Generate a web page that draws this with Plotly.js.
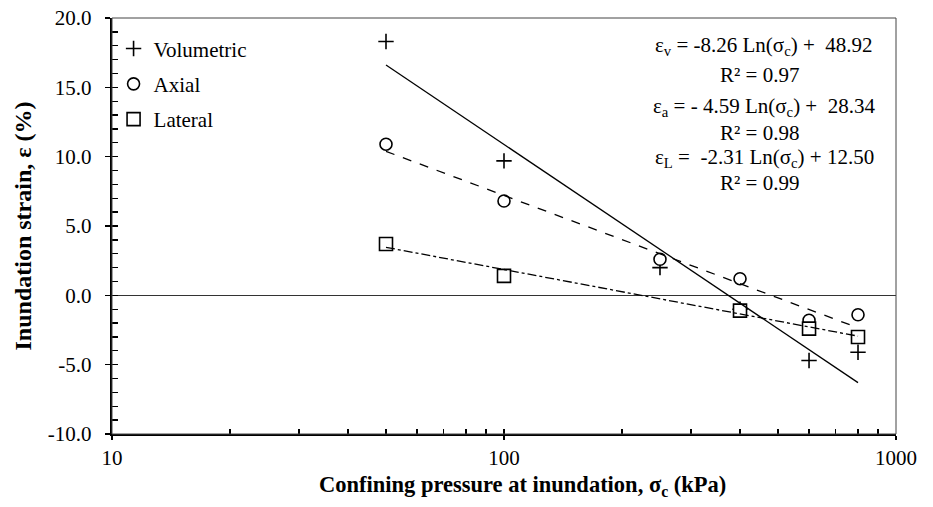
<!DOCTYPE html>
<html>
<head>
<meta charset="utf-8">
<script src="https://cdn.plot.ly/plotly-3.0.1.min.js"></script>
<style>
  html, body { margin: 0; padding: 0; background: #fff; }
  #chart { width: 933px; height: 507px; }
</style>
</head>
<body>
<div id="chart"></div>
<script>
// Confining pressure at inundation (kPa)
const pressure = [50, 100, 250, 400, 600, 800];

// Inundation strains (%) measured at each confining pressure
const volumetric = [18.3, 9.7, 2.0, -1.0, -4.7, -4.1];
const axial      = [10.9, 6.8, 2.6, 1.2, -1.8, -1.4];
const lateral    = [3.7, 1.4, null, -1.1, -2.4, -3.0];

// Logarithmic fits: strain = slope * Ln(sigma_c) + intercept
const fitNames      = ["v", "a", "L"];
const fitSlopes     = [-8.26, -4.59, -2.31];
const fitIntercepts = [48.92, 28.34, 12.50];
const fitR2         = [0.97, 0.98, 0.99];
const fitRange      = [50, 800];

// Axis ticks
const yTickVals = [-10, -5, 0, 5, 10, 15, 20];
const yTickText = ["-10.0", "-5.0", "0.0", "5.0", "10.0", "15.0", "20.0"];
const xTickVals = [10, 100, 1000];
const xTickText = ["10", "100", "1000"];

const FONT = "Liberation Serif, Times New Roman, serif";
const markerLine = { color: "#000", width: 1.6 };

const traces = [
  {
    x: pressure, y: volumetric, name: "Volumetric", type: "scatter", mode: "markers",
    legendgroup: "v",
    marker: { symbol: "cross-thin-open", size: 11, color: "#000", line: { color: "#000", width: 1.6 } }
  },
  {
    x: pressure, y: axial, name: "Axial", type: "scatter", mode: "markers",
    legendgroup: "a",
    marker: { symbol: "circle", size: 12, color: "#fff", line: markerLine }
  },
  {
    x: pressure, y: lateral, name: "Lateral", type: "scatter", mode: "markers",
    legendgroup: "L",
    marker: { symbol: "square", size: 13, color: "#fff", line: markerLine }
  }
];

// Fitted lines, evaluated from the stated coefficients
const fitDash = ["solid", "dash", "dashdot"];
fitSlopes.forEach((s, i) => {
  traces.push({
    x: fitRange,
    y: fitRange.map(p => s * Math.log(p) + fitIntercepts[i]),
    type: "scatter", mode: "lines", showlegend: false, hoverinfo: "skip",
    line: { color: "#000", width: 1.3, dash: fitDash[i] }
  });
});

// Empty traces so the overlay axes carrying the inner tick marks get drawn
traces.push({ x: [null], y: [null], xaxis: "x2", yaxis: "y", type: "scatter", mode: "markers",
              showlegend: false, hoverinfo: "skip" });
traces.push({ x: [null], y: [null], xaxis: "x", yaxis: "y2", type: "scatter", mode: "markers",
              showlegend: false, hoverinfo: "skip" });

// Equation labels built from the same coefficients
function slopeText(i) {
  const s = fitSlopes[i];
  const mag = Math.abs(s).toFixed(2);
  if (i === 1) return (s < 0 ? "- " : "") + mag;
  if (i === 2) return " " + (s < 0 ? "-" : "") + mag;
  return (s < 0 ? "-" : "") + mag;
}
function eqText(i) {
  const b = fitIntercepts[i].toFixed(2);
  const gap = i === 2 ? " " : "  ";
  return "ε<sub>" + fitNames[i] + "</sub> = " + slopeText(i) + " Ln(σ<sub>c</sub>) +" + gap + b;
}
const eqY = [46, 107, 158];
const r2Y = [75, 133, 183];
const annotations = [];
fitSlopes.forEach((s, i) => {
  annotations.push({
    xref: "paper", yref: "paper", x: 0.832, y: 1 - (eqY[i] - 18) / 416,
    text: eqText(i), showarrow: false, xanchor: "center", yanchor: "middle",
    font: { family: FONT, size: 21, color: "#000" }
  });
  annotations.push({
    xref: "paper", yref: "paper", x: 0.826, y: 1 - (r2Y[i] - 18) / 416,
    text: "R² = " + fitR2[i].toFixed(2), showarrow: false, xanchor: "center", yanchor: "middle",
    font: { family: FONT, size: 21, color: "#000" }
  });
});

// x-axis title, set slightly right of the plot centre
annotations.push({
  xref: "paper", yref: "paper", x: 0.524, y: -0.126, xanchor: "center", yanchor: "middle",
  showarrow: false,
  text: "<b>Confining pressure at inundation, σ<sub>c</sub> (kPa)</b>",
  font: { family: FONT, size: 22.5, color: "#000" }
});

const layout = {
  width: 933, height: 507,
  margin: { l: 112, r: 37, t: 18, b: 73 },
  paper_bgcolor: "#fff", plot_bgcolor: "#fff",
  font: { family: FONT, size: 21, color: "#000" },
  showlegend: true,
  legend: {
    x: 0.002, y: 0.975, xanchor: "left", yanchor: "top",
    bgcolor: "rgba(0,0,0,0)", borderwidth: 0,
    font: { family: FONT, size: 21, color: "#000" },
    traceorder: "grouped", tracegroupgap: 5, itemwidth: 30
  },
  xaxis: {
    type: "log", range: [1, 3],
    tickvals: xTickVals, ticktext: xTickText,
    ticks: "outside", ticklen: 4, tickwidth: 1.3, tickcolor: "#000",
    showgrid: false, zeroline: false,
    showline: true, linewidth: 2.2, linecolor: "#000",
    tickfont: { family: FONT, size: 21, color: "#000" }
  },
  yaxis: {
    range: [-10, 20],
    tickvals: yTickVals, ticktext: yTickText,
    ticks: "outside", ticklen: 5, tickwidth: 1.3, tickcolor: "#000",
    ticklabelstandoff: 9,
    showgrid: false,
    zeroline: true, zerolinecolor: "#333", zerolinewidth: 1.2,
    showline: true, linewidth: 2.2, linecolor: "#000",
    tickfont: { family: FONT, size: 21, color: "#000" },
    title: {
      text: "<b>Inundation strain, ε (%)</b>",
      font: { family: FONT, size: 24, color: "#000" }, standoff: 10
    }
  },
  // inner tick marks (major and minor) drawn on overlay axes
  xaxis2: {
    type: "log", range: [1, 3], overlaying: "x", anchor: "y",
    dtick: "D1", ticks: "inside", ticklen: 5, tickwidth: 1.3, tickcolor: "#000",
    showticklabels: false, showgrid: false, zeroline: false, showline: false
  },
  yaxis2: {
    range: [-10, 20], overlaying: "y", anchor: "x",
    dtick: 1, ticks: "inside", ticklen: 6, tickwidth: 1.3, tickcolor: "#000",
    showticklabels: false, showgrid: false, zeroline: false, showline: false
  },
  shapes: [{
    type: "rect", xref: "paper", yref: "paper", x0: 0, x1: 1, y0: 0, y1: 1,
    line: { color: "#444", width: 1 }, fillcolor: "rgba(0,0,0,0)", layer: "above"
  }],
  annotations: annotations
};

Plotly.newPlot("chart", traces, layout, { displayModeBar: false, staticPlot: true });
</script>
</body>
</html>
